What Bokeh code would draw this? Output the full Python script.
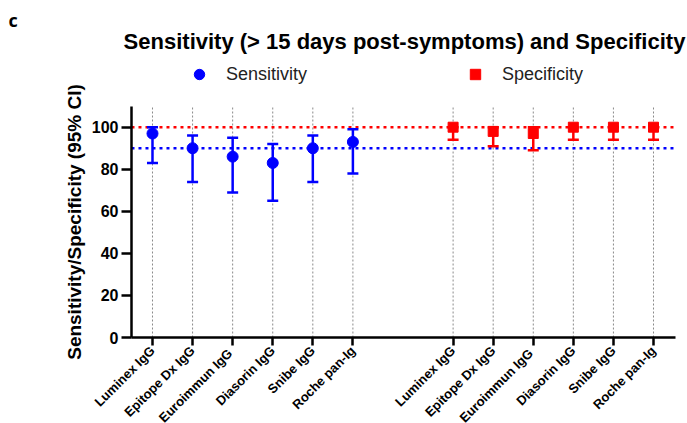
import math
from bokeh.plotting import figure
from bokeh.models import (ColumnDataSource, Whisker, TeeHead, FixedTicker,
                          Label, Legend, LegendItem, Range1d)
from bokeh.embed import file_html
from bokeh.resources import INLINE

# ---- data ----
assays = ["Luminex IgG", "Epitope Dx IgG", "Euroimmun  IgG", "Diasorin IgG", "Snibe IgG", "Roche pan-Ig"]
sensitivity = [97, 90, 86, 83, 90, 93]
sensitivity_lo = [83, 74, 69, 65, 74, 78]
sensitivity_hi = [100, 96, 95, 92, 96, 99]
specificity = [100, 98, 97, 100, 100, 100]
specificity_lo = [94, 91, 89, 94, 94, 94]
specificity_hi = [100, 100, 100, 100, 100, 100]
reference_lines = [100, 90]
y_ticks = [0, 20, 40, 60, 80, 100]

# ---- layout (group 1, gap, group 2) ----
n = len(assays)
sens_x = [i + 1 for i in range(n)]
spec_x = [i + n + 2.5 for i in range(n)]
ticks_x = sens_x + spec_x

X_AXIS = (0.476, 14.05)   # extent of the drawn x axis
Y_AXIS = (0, 110)         # extent of the drawn y axis

FONT = "Liberation Sans"
BLUE = "#0000FF"
RED = "#FF0000"

W, H = 687, 423
p = figure(width=W, height=H, output_backend="svg", toolbar_location=None,
           x_range=Range1d(-2.792, 14.348), y_range=Range1d(-40.89, 160.25),
           min_border_left=0, min_border_right=0, min_border_top=0, min_border_bottom=0)
p.outline_line_color = None
p.background_fill_color = "white"
p.xgrid.grid_line_color = None
p.ygrid.grid_line_color = None

# vertical dotted guide lines at each assay
guide_src = ColumnDataSource(dict(x=ticks_x, y0=[Y_AXIS[0]] * len(ticks_x), y1=[Y_AXIS[1]] * len(ticks_x)))
p.segment(x0="x", x1="x", y0="y0", y1="y1", source=guide_src,
          line_color="#8a8a8a", line_width=1, line_dash="2 2", level="underlay")

# reference lines (dotted)
ref_src = ColumnDataSource(dict(x0=[X_AXIS[0]] * 2, x1=[X_AXIS[1]] * 2,
                                y=reference_lines, c=[RED, BLUE]))
p.segment(x0="x0", x1="x1", y0="y", y1="y", line_color="c", source=ref_src,
          line_width=2.5, line_dash="3 4")

sens_src = ColumnDataSource(dict(x=sens_x, y=sensitivity, lo=sensitivity_lo, hi=sensitivity_hi))
spec_src = ColumnDataSource(dict(x=spec_x, y=specificity, lo=specificity_lo, hi=specificity_hi))

for src, col in [(sens_src, BLUE), (spec_src, RED)]:
    w = Whisker(source=src, base="x", lower="lo", upper="hi", line_color=col, line_width=2.5,
                upper_head=TeeHead(size=11, line_color=col, line_width=2.5),
                lower_head=TeeHead(size=11, line_color=col, line_width=2.5),
                level="glyph")
    p.add_layout(w)

r_sens = p.scatter("x", "y", source=sens_src, marker="circle", size=11,
                   fill_color=BLUE, line_color=BLUE, level="overlay")
r_spec = p.scatter("x", "y", source=spec_src, marker="square", size=10,
                   fill_color=RED, line_color=RED, level="overlay")

# axes
for ax in [p.xaxis[0], p.yaxis[0]]:
    ax.axis_line_width = 2.5
    ax.axis_line_color = "black"
    ax.major_tick_line_width = 2.5
    ax.major_tick_line_color = "black"
    ax.major_tick_in = 0
    ax.minor_tick_line_color = None
    ax.major_label_text_font = FONT
    ax.major_label_text_font_style = "bold"
    ax.major_label_text_color = "black"

p.yaxis.fixed_location = X_AXIS[0]
p.yaxis.bounds = Y_AXIS
p.yaxis.ticker = FixedTicker(ticks=y_ticks)
p.yaxis.major_tick_out = 10
p.yaxis.major_label_text_font_size = "16px"
p.yaxis.major_label_standoff = 3
p.yaxis.axis_label = "Sensitivity/Specificity (95% CI)"
p.yaxis.axis_label_text_font = FONT
p.yaxis.axis_label_text_font_size = "19px"
p.yaxis.axis_label_text_font_style = "bold"
p.yaxis.axis_label_text_color = "black"
p.yaxis.axis_label_standoff = 4

p.xaxis.fixed_location = Y_AXIS[0]
p.xaxis.bounds = X_AXIS
p.xaxis.ticker = FixedTicker(ticks=ticks_x)
p.xaxis.major_label_overrides = {x: lab for x, lab in zip(ticks_x, assays + assays)}
p.xaxis.major_tick_out = 8
p.xaxis.major_label_orientation = math.pi / 4
p.xaxis.major_label_text_font_size = "13px"
p.xaxis.major_label_standoff = 3

# title and panel letter (screen px, from the bottom-left of the canvas)
p.add_layout(Label(x=404, y=H - 41, x_units="screen", y_units="screen",
                   text="Sensitivity (> 15 days post-symptoms) and Specificity",
                   text_align="center", text_baseline="alphabetic",
                   text_font=FONT, text_font_style="bold", text_font_size="22px",
                   text_color="black"))
p.add_layout(Label(x=8, y=H - 19, x_units="screen", y_units="screen", text="c",
                   text_align="left", text_baseline="alphabetic",
                   text_font="Open Sans", text_font_style="bold", text_font_size="18px",
                   text_color="black"))

# legends
for r, lab, xloc in [(r_sens, "Sensitivity", 186), (r_spec, "Specificity", 462)]:
    lg = Legend(items=[LegendItem(label=lab, renderers=[r])], location=(xloc, H - 74 - 13),
                orientation="horizontal", padding=0, margin=0, spacing=0,
                border_line_color=None, background_fill_alpha=0,
                glyph_width=26, glyph_height=26, label_height=26, label_standoff=14,
                label_text_font=FONT, label_text_font_size="18px", label_text_color="#222222")
    p.add_layout(lg, "center")

open("out.html", "w").write(file_html(p, INLINE))
